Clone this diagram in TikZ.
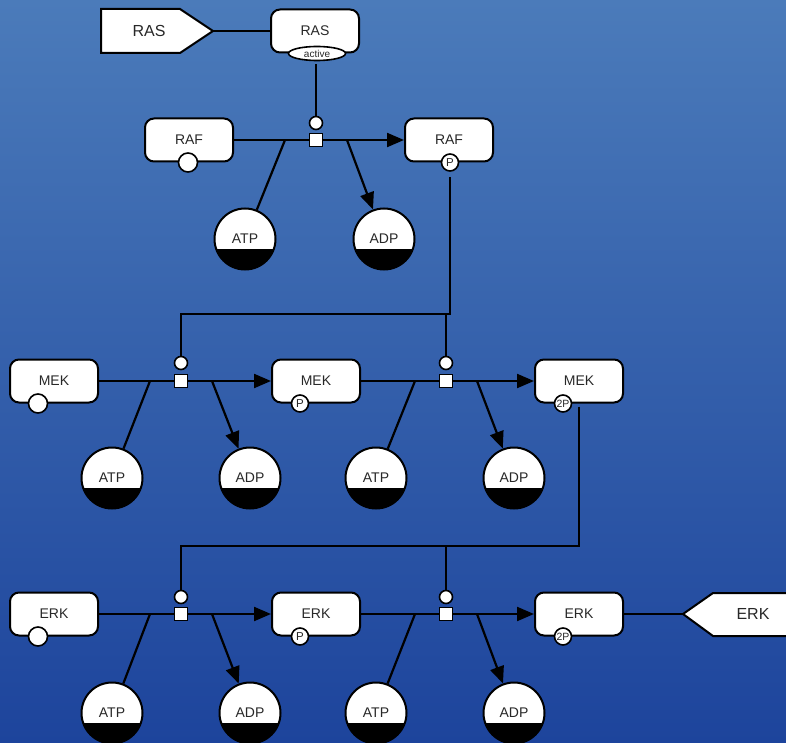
\documentclass[tikz,border=0pt]{standalone}
\usepackage{fontspec}
\setmainfont{Liberation Sans}
\usetikzlibrary{arrows.meta,shapes.geometric}
\definecolor{bgtop}{RGB}{75,123,186}
\definecolor{bgbot}{RGB}{29,68,156}
\definecolor{labelgray}{RGB}{40,40,40}

\tikzset{
  macro/.style={draw, fill=white, line width=2pt, rounded corners=9pt,
    minimum width=88pt, minimum height=43pt, inner sep=0pt, text=labelgray,
    font=\fontsize{14}{16}\selectfont},
  svfree/.style={circle, draw, fill=white, line width=1.6pt, minimum size=19pt, inner sep=0pt},
  svmod/.style={circle, draw, fill=white, line width=1.6pt, minimum size=17pt, inner sep=0pt,
    text=labelgray, font=\fontsize{11.5}{11.5}\selectfont},
  svmodtwo/.style={svmod, font=\fontsize{10.5}{10.5}\selectfont},
  chem/.style={circle, draw, fill=white, line width=2pt, minimum size=61pt, inner sep=0pt,
    text=labelgray, font=\fontsize{14}{16}\selectfont,
    path picture={\fill[black] ([yshift=-10pt]path picture bounding box.west)
      rectangle (path picture bounding box.south east);}},
  proc/.style={rectangle, draw, fill=white, line width=1.6pt, minimum size=13pt, inner sep=0pt},
  cat/.style={circle, draw, fill=white, line width=1.6pt, minimum size=13pt, inner sep=0pt},
  link/.style={line width=2.2pt, black},
  conv/.style={link, -{Triangle[length=17pt,width=14pt]}},
  tagshape/.style={draw, fill=white, line width=2pt, line join=miter},
  taglabel/.style={text=labelgray, font=\fontsize{16}{18}\selectfont}
}

\begin{document}
\begin{tikzpicture}[x=1pt,y=-1pt]
\useasboundingbox (0,0) rectangle (786,743);
\fill[top color=bgtop, bottom color=bgbot] (0,0) rectangle (786,743);

% ---------- RAS ----------
\draw[tagshape] (101,9) -- (180,9) -- (213,31) -- (180,53) -- (101,53) -- cycle;
\node[taglabel] (rasTag) at (149,31) {RAS};
\coordinate (rasTip) at (213,31);
\node[macro] (ras) at (315,31) {RAS};
\node[ellipse, draw, fill=white, line width=1.6pt, minimum width=57pt, minimum height=14pt,
  inner sep=0pt, text=labelgray, font=\fontsize{10}{10}\selectfont] (rasAct) at ([xshift=2pt]ras.south) {active};
\draw[link] (rasTip) -- (ras.west);

% ---------- RAF phosphorylation ----------
\node[macro] (raf0) at (189,140) {RAF};
\node[svfree] (raf0sv) at ([xshift=-1pt]raf0.south) {};
\node[proc] (p1) at (316,140) {};
\node[cat] (c1) at (316,123) {};
\node[macro] (raf1) at (449,140) {RAF};
\node[svmod] (raf1sv) at ([xshift=1pt]raf1.south) {P};
\node[chem] (atp1) at (245,239) {ATP};
\node[chem] (adp1) at (384,239) {ADP};
\coordinate (j1a) at (285,140);
\coordinate (j1b) at (347,140);
\draw[link] (raf0.east) -- (p1.west);
\draw[conv] (p1.east) -- (raf1.west);
\draw[link] (atp1) -- (j1a);
\draw[conv] (j1b) -- (adp1);
\draw[link] ([yshift=-3pt]c1.north |- rasAct.south) -- (c1.north);

% ---------- MEK double phosphorylation ----------
\node[macro] (mek0) at (54,381) {MEK};
\node[svfree] (mek0sv) at ([xshift=-16pt]mek0.south) {};
\node[proc] (p2) at (181,381) {};
\node[cat] (c2) at (181,363) {};
\node[macro] (mek1) at (316,381) {MEK};
\node[svmod] (mek1sv) at ([xshift=-16pt]mek1.south) {P};
\node[proc] (p3) at (446,381) {};
\node[cat] (c3) at (446,363) {};
\node[macro] (mek2) at (579,381) {MEK};
\node[svmodtwo] (mek2sv) at ([xshift=-16pt]mek2.south) {2P};
\node[chem] (atp2) at (112,478) {ATP};
\node[chem] (adp2) at (250,478) {ADP};
\node[chem] (atp3) at (376,478) {ATP};
\node[chem] (adp3) at (514,478) {ADP};
\coordinate (j2a) at (150,381);
\coordinate (j2b) at (212,381);
\coordinate (j3a) at (415,381);
\coordinate (j3b) at (477,381);
\draw[link] (mek0.east) -- (p2.west);
\draw[conv] (p2.east) -- (mek1.west);
\draw[link] (mek1.east) -- (p3.west);
\draw[conv] (p3.east) -- (mek2.west);
\draw[link] (atp2) -- (j2a);
\draw[conv] (j2b) -- (adp2);
\draw[link] (atp3) -- (j3a);
\draw[conv] (j3b) -- (adp3);

% RAF-P catalyses both MEK steps
\coordinate (k1) at (0,314);
\draw[link] ([yshift=-5pt]raf1sv.south) -- (raf1sv.south |- k1) -| (c2.north);
\draw[link] (c3.north) -- (c3.north |- k1);

% ---------- ERK double phosphorylation ----------
\node[macro] (erk0) at (54,614) {ERK};
\node[svfree] (erk0sv) at ([xshift=-16pt]erk0.south) {};
\node[proc] (p4) at (181,614) {};
\node[cat] (c4) at (181,597) {};
\node[macro] (erk1) at (316,614) {ERK};
\node[svmod] (erk1sv) at ([xshift=-16pt]erk1.south) {P};
\node[proc] (p5) at (446,614) {};
\node[cat] (c5) at (446,597) {};
\node[macro] (erk2) at (579,614) {ERK};
\node[svmodtwo] (erk2sv) at ([xshift=-16pt]erk2.south) {2P};
\node[chem] (atp4) at (112,713) {ATP};
\node[chem] (adp4) at (250,713) {ADP};
\node[chem] (atp5) at (376,713) {ATP};
\node[chem] (adp5) at (514,713) {ADP};
\coordinate (j4a) at (150,614);
\coordinate (j4b) at (212,614);
\coordinate (j5a) at (415,614);
\coordinate (j5b) at (477,614);
\draw[link] (erk0.east) -- (p4.west);
\draw[conv] (p4.east) -- (erk1.west);
\draw[link] (erk1.east) -- (p5.west);
\draw[conv] (p5.east) -- (erk2.west);
\draw[link] (atp4) -- (j4a);
\draw[conv] (j4b) -- (adp4);
\draw[link] (atp5) -- (j5a);
\draw[conv] (j5b) -- (adp5);

% MEK-2P catalyses both ERK steps
\coordinate (k2) at (0,546);
\draw[link] ([yshift=-3pt]mek2.south) -- (mek2.south |- k2) -| (c4.north);
\draw[link] (c5.north) -- (c5.north |- k2);

% ERK tag
\draw[tagshape] (800,593) -- (713,593) -- (683,614) -- (713,636) -- (800,636) -- cycle;
\node[taglabel] (erkTag) at (753,614) {ERK};
\coordinate (erkTip) at (683,614);
\draw[link] (erk2.east) -- (erkTip);
\end{tikzpicture}
\end{document}
